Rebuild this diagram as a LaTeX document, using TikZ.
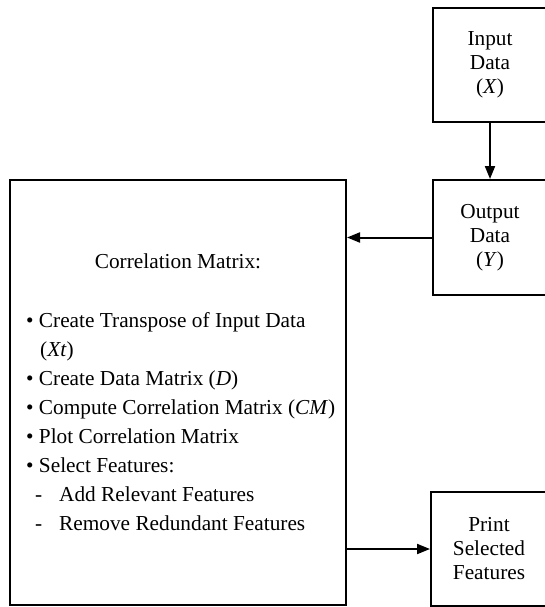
\documentclass[tikz,border=0pt]{standalone}
\usepackage{fontspec}
\setmainfont{Liberation Serif}
\usetikzlibrary{arrows.meta}
\begin{document}
\begin{tikzpicture}[x=1pt,y=-1pt,
  box/.style={draw,line width=2pt,inner sep=0pt,align=center,
    font=\fontsize{21.3}{24}\selectfont},
  arr/.style={line width=2pt,-{Triangle[length=13pt,width=10pt]}},
  item/.style={anchor=base west,inner sep=0pt,font=\fontsize{21.3}{25}\selectfont}]
\useasboundingbox (0,0) rectangle (544,607);
% process boxes (the right-hand column runs past the page edge)
\node[box,minimum width=114pt,minimum height=114pt] (in) at (490,65)
  {Input\\Data\\(\textit{X})};
\node[box,minimum width=114pt,minimum height=115pt] (out) at (490,237.5)
  {Output\\Data\\(\textit{Y})};
\node[box,minimum width=116pt,minimum height=114pt] (print) at (489,549)
  {Print\\Selected\\Features};
\node[box,minimum width=336pt,minimum height=425pt] (corr) at (178,392.5) {};
% contents of the correlation-matrix box
\node[item,anchor=base] (title) at (178,268) {Correlation Matrix:};
\node[item] (l1) at (26,327) {\textbullet\ Create Transpose of Input Data};
\node[item] (l2) at (40,356) {(\textit{Xt})};
\node[item] (l3) at (26,385) {\textbullet\ Create Data Matrix (\textit{D})};
\node[item] (l4) at (26,414) {\textbullet\ Compute Correlation Matrix (\textit{CM})};
\node[item] (l5) at (26,443) {\textbullet\ Plot Correlation Matrix};
\node[item] (l6) at (26,472) {\textbullet\ Select Features:};
\node[item] (l7) at (35,501) {\makebox[24pt][l]{-}Add Relevant Features};
\node[item] (l8) at (35,530) {\makebox[24pt][l]{-}Remove Redundant Features};
% connectors
\draw[arr] (in) -- (out);
\draw[arr] (out.west) -- (out.west -| corr.east);
\draw[arr] (print.west -| corr.east) -- (print.west);
\end{tikzpicture}
\end{document}
